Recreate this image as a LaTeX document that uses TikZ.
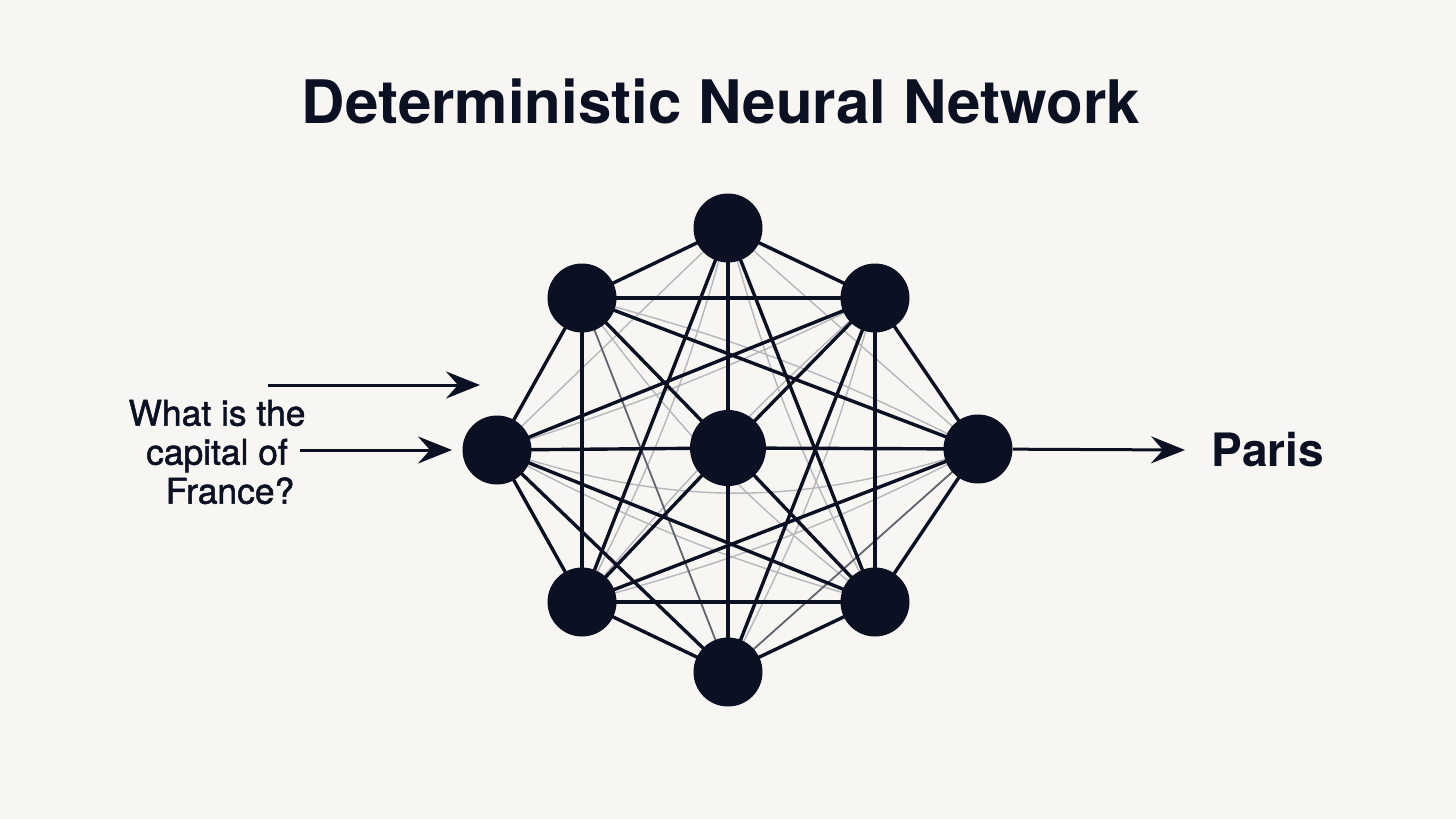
\documentclass[tikz,border=0pt]{standalone}
\usepackage{fontspec}
\setmainfont{TeX Gyre Heros}
\newfontfamily\qfont[FakeBold=1.4]{TeX Gyre Heros}
\usetikzlibrary{arrows.meta}
\definecolor{ink}{HTML}{0B1022}
\definecolor{bg}{HTML}{F7F6F2}
\pgfdeclarelayer{paper}
\pgfdeclarelayer{wires}
\pgfsetlayers{paper,wires,main}
\begin{document}
\begin{tikzpicture}[x=0.5pt,y=-0.5pt,
  neuron/.style={circle, fill=ink, inner sep=0pt, minimum size=34.5pt},
  hub/.style={circle, fill=ink, inner sep=0pt, minimum size=38pt},
  strong/.style={draw=ink, line width=1.7pt},
  medium/.style={draw=ink!65, line width=0.9pt},
  faint/.style={draw=ink!30, line width=0.7pt},
  flow/.style={draw=ink, line width=1.5pt, -{Stealth[length=17pt,width=13.5pt,inset=6pt]}},
  label/.style={text=ink, inner sep=0pt}
]
\begin{pgfonlayer}{paper}
\fill[bg] (0,0) rectangle (1456,819);
\end{pgfonlayer}
\useasboundingbox (0,0) rectangle (1456,819);

\node[label, font=\fontsize{30}{36}\selectfont\bfseries] (title) at (721,101) {Deterministic Neural Network};

% neurons
\node[neuron] (T)  at (728,228) {};
\node[neuron] (UL) at (582,298) {};
\node[neuron] (UR) at (875,298) {};
\node[neuron] (L)  at (497,450) {};
\node[hub]    (C)  at (728,448) {};
\node[neuron] (R)  at (978,449) {};
\node[neuron] (LL) at (582,602) {};
\node[neuron] (LR) at (875,602) {};
\node[neuron] (B)  at (728,672) {};

\begin{pgfonlayer}{wires}
% faint connections
\draw[faint] (L.center) to[bend right=18] (R.center);
\draw[faint] (UR.center) to[bend left=4] (L.center);
\draw[faint] (UR.center) to[bend right=4] (LL.center);
\draw[faint] (UL.center) to[bend right=8] (LR.center);
\draw[faint] (T.center) to[bend left=6] (LL.center);
\draw[faint] (T.center) to[bend right=6] (LR.center);
\draw[faint] (LR.center) to[bend left=6] (L.center);
\draw[faint] (B.center) to[bend right=6] (UR.center);
\draw[faint] (R.center) to[bend left=6] (LL.center);
\draw[faint] (T.center) -- (L.center);
\draw[faint] (T.center) -- (R.center);
\draw[faint] (UL.center) to[bend left=6] (R.center);

% medium connections
\draw[medium] (B.center) -- (UL.center);
\draw[medium] (R.center) -- (B.center);

% strong connections: octagon
\draw[strong] (T.center) -- (UL.center);
\draw[strong] (T.center) -- (UR.center);
\draw[strong] (UL.center) -- (L.center);
\draw[strong] (UR.center) -- (R.center);
\draw[strong] (L.center) -- (LL.center);
\draw[strong] (R.center) -- (LR.center);
\draw[strong] (LL.center) -- (B.center);
\draw[strong] (LR.center) -- (B.center);
% strong connections: chords
\draw[strong] (UL.center) -- (UR.center);
\draw[strong] (LL.center) -- (LR.center);
\draw[strong] (UL.center) -- (LL.center);
\draw[strong] (UR.center) -- (LR.center);
\draw[strong] (L.center) -- (C.center);
\draw[strong] (C.center) -- (R.center);
\draw[strong] (T.center) -- (C.center);
\draw[strong] (C.center) -- (B.center);
\draw[strong] (UL.center) -- (C.center);
\draw[strong] (C.center) -- (LR.center);
\draw[strong] (UR.center) -- (C.center);
\draw[strong] (C.center) -- (LL.center);
\draw[strong] (UL.center) -- (R.center);
\draw[strong] (UR.center) -- (L.center);
\draw[strong] (L.center) -- (LR.center);
\draw[strong] (R.center) -- (LL.center);
\draw[strong] (T.center) -- (LL.center);
\draw[strong] (T.center) -- (LR.center);
\draw[strong] (L.center) -- (B.center);
\draw[strong] (UR.center) -- (B.center);
\end{pgfonlayer}

% input
\node[label, align=center, font=\qfont\fontsize{17.7}{19.5}\selectfont] (q) at (217,452) {What is the\\capital of\hspace*{4.5pt}\\\hspace*{13pt}France?};
\coordinate (in1s) at (268,385);
\coordinate (in1e) at (480,385);
\coordinate (in2s) at (300,450);
\coordinate (in2e) at (452,450);
\draw[flow] (in1s) -- (in1e);
\draw[flow] (in2s) -- (in2e);

% output
\coordinate (oute) at (1185,450);
\draw[flow] (R) -- (oute);
\node[label, font=\fontsize{23}{28}\selectfont\bfseries] (ans) at (1268,450) {Paris};
\end{tikzpicture}
\end{document}
